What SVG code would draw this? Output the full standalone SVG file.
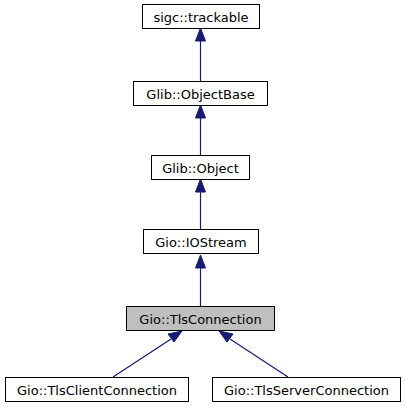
<svg xmlns="http://www.w3.org/2000/svg" width="405" height="411" viewBox="0 0 405 411">
<style>
.n rect{fill:#fff;stroke:#000;stroke-width:1}
.n.cur rect{fill:#bfbfbf}
.n text{font-family:"DejaVu Sans",sans-serif;font-size:13px;text-anchor:middle;fill:#000}
.e line{stroke:#191970;stroke-width:1.2}
.e polygon{fill:#191970;stroke:#191970}
</style>
<rect width="405" height="411" fill="#fff"/>
<g class="e">
<line x1="200.5" y1="81" x2="200.5" y2="39"/><polygon points="195.5,41 200.5,28 205.5,41"/>
<line x1="200.5" y1="155" x2="200.5" y2="116"/><polygon points="195.5,118 200.5,105 205.5,118"/>
<line x1="200.5" y1="229" x2="200.5" y2="190"/><polygon points="195.5,192 200.5,179 205.5,192"/>
<line x1="200.5" y1="306" x2="200.5" y2="266"/><polygon points="195.5,268 200.5,255 205.5,268"/>
<line x1="113" y1="377" x2="171" y2="339"/><polygon points="168,334 182,331 174,342"/>
<line x1="288" y1="377" x2="230" y2="339"/><polygon points="227,342 219,331 233,334"/>
</g>
<g id="sigc_trackable" class="n"><rect x="142.5" y="4.5" width="117" height="24"/><text x="201" y="21.5">sigc::trackable</text></g>
<g id="Glib_ObjectBase" class="n"><rect x="133.5" y="81.5" width="134" height="24"/><text x="200.5" y="98.5">Glib::ObjectBase</text></g>
<g id="Glib_Object" class="n"><rect x="151.5" y="155.5" width="98" height="24"/><text x="200.5" y="172.5">Glib::Object</text></g>
<g id="Gio_IOStream" class="n"><rect x="143.5" y="229.5" width="115" height="24"/><text x="201" y="246.5">Gio::IOStream</text></g>
<g id="Gio_TlsConnection" class="n cur"><rect x="126.5" y="306.5" width="148" height="24"/><text x="200.5" y="323.5">Gio::TlsConnection</text></g>
<g id="Gio_TlsClientConnection" class="n"><rect x="5.5" y="377.5" width="183" height="24"/><text x="97" y="394.5">Gio::TlsClientConnection</text></g>
<g id="Gio_TlsServerConnection" class="n"><rect x="212.5" y="377.5" width="188" height="24"/><text x="306.5" y="394.5">Gio::TlsServerConnection</text></g>
</svg>
